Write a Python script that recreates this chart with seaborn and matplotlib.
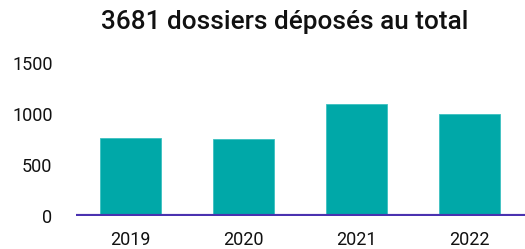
import matplotlib
matplotlib.use("Agg")
import matplotlib.pyplot as plt
import seaborn as sns
import pandas as pd

years = ["2019", "2020", "2021", "2022"]
dossiers = [765, 755, 1100, 1005]
ytick_values = [0, 500, 1000, 1500]
ytick_labels = ["0", "500", "1000", "1500"]
title = "3681 dossiers déposés au total"

sns.set_theme(style="white")
plt.rcParams["font.family"] = ["Roboto", "DejaVu Sans"]

df = pd.DataFrame({"year": years, "n": dossiers})

fig = plt.figure(figsize=(5.25, 2.49), dpi=100)
ax = fig.add_axes([0.145, 0.133, 0.855, 0.675])
sns.barplot(data=df, x="year", y="n", color="#00A8A8", width=0.54,
            saturation=1, edgecolor="#3cc0c0", linewidth=0.6, ax=ax)
ax.axhline(0, color="#4a32b0", lw=3, zorder=5, solid_capstyle="butt")
ax.set_xlim(-0.48, 3.49)
ax.set_ylim(0, 1650)
ax.set_yticks(ytick_values)
ax.set_yticklabels(ytick_labels)
ax.set_xticks(range(len(years)))
ax.set_xticklabels(years)
ax.tick_params(axis="y", length=0, pad=17, labelsize=13, colors="#111111")
ax.tick_params(axis="x", length=0, pad=11, labelsize=13, colors="#111111")
ax.set_xlabel("")
ax.set_ylabel("")
for s in ax.spines.values():
    s.set_visible(False)
fig.text(0.543, 0.912, title, ha="center", va="center", fontsize=18.8,
         fontweight="medium", color="#111111")
fig.savefig("out.png", dpi=100)
